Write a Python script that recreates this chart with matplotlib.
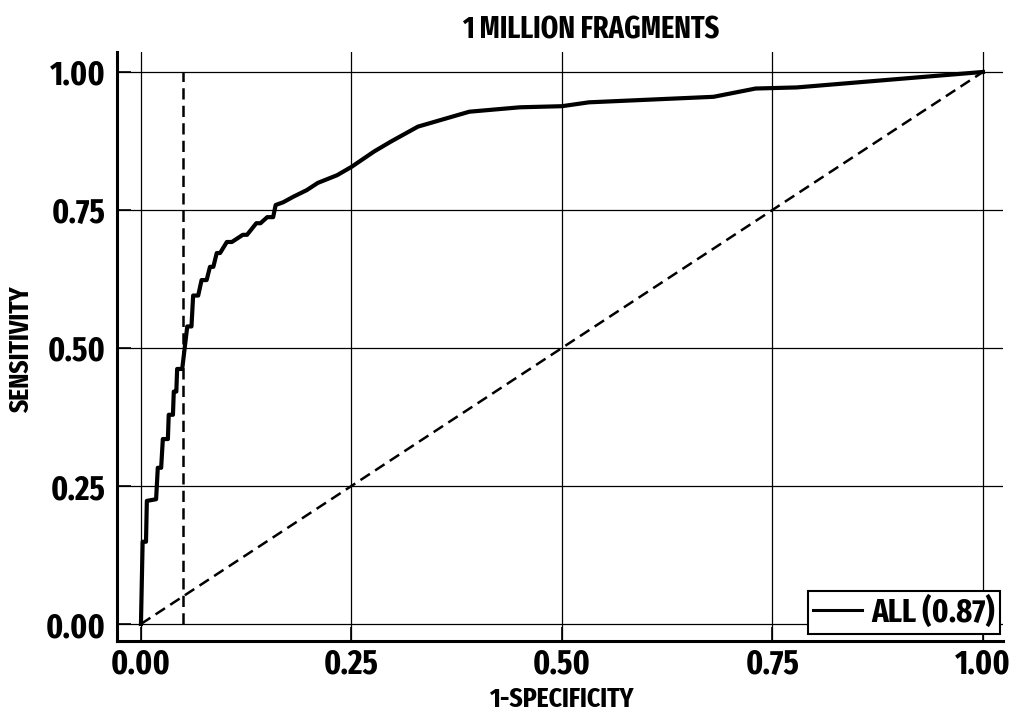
import matplotlib
matplotlib.use("Agg")
import matplotlib.pyplot as plt
from matplotlib import font_manager

# ROC curve points (false positive rate, true positive rate)
fpr = [0.000, 0.002, 0.006, 0.007, 0.018, 0.020, 0.024, 0.026, 0.032, 0.033,
       0.038, 0.039, 0.042, 0.043, 0.049, 0.055, 0.060, 0.062, 0.068, 0.072,
       0.078, 0.082, 0.086, 0.090, 0.094, 0.102, 0.108, 0.121, 0.126, 0.137,
       0.142, 0.150, 0.157, 0.160, 0.169, 0.181, 0.197, 0.210, 0.233, 0.250,
       0.277, 0.297, 0.329, 0.390, 0.450, 0.500, 0.532, 0.680, 0.730, 0.779,
       1.000]
tpr = [0.000, 0.149, 0.149, 0.223, 0.226, 0.283, 0.283, 0.335, 0.335, 0.379,
       0.379, 0.421, 0.421, 0.462, 0.462, 0.539, 0.539, 0.595, 0.595, 0.623,
       0.623, 0.647, 0.647, 0.672, 0.672, 0.692, 0.692, 0.705, 0.705, 0.726,
       0.726, 0.737, 0.737, 0.759, 0.764, 0.774, 0.786, 0.799, 0.813, 0.828,
       0.856, 0.874, 0.901, 0.928, 0.936, 0.938, 0.945, 0.955, 0.970, 0.972,
       1.000]
auc_label = "ALL (0.87)"
cutoff_fpr = 0.05
ticks = [0.00, 0.25, 0.50, 0.75, 1.00]
tick_labels = ["0.00", "0.25", "0.50", "0.75", "1.00"]


def pick_condensed_bold():
    """Return the file of a bold narrow/condensed sans face, if one is installed."""
    best = None
    best_score = -1
    for f in font_manager.fontManager.ttflist:
        if not f.fname.lower().endswith((".ttf", ".otf")):
            continue
        name = f.name.lower()
        path = f.fname.lower()
        stretch = str(f.stretch).lower()
        narrow = ("condensed" in name or "narrow" in name or "condensed" in path
                  or "narrow" in path or "condensed" in stretch)
        if not narrow:
            continue
        if "italic" in path or "oblique" in path or f.style != "normal":
            continue
        if "semicondensed" in path or "semi-condensed" in stretch or "semicondensed" in stretch:
            score = 1
        elif "extracondensed" in path or "extra-condensed" in stretch:
            score = 3
        else:
            score = 2
        w = f.weight if isinstance(f.weight, int) else 700 if "bold" in str(f.weight) else 400
        if "bold" in path and "semibold" not in path and "extrabold" not in path:
            score += 10
        elif w >= 700:
            score += 6
        if "mono" in path or "cjk" in path:
            score -= 20
        if score > best_score:
            best_score = score
            best = f.fname
    return best


condensed = pick_condensed_bold()
if condensed:
    font = dict(fname=condensed)
    size_scale = 1.0
else:
    font = dict(family="DejaVu Sans", weight="bold")
    size_scale = 0.75


def fp(size):
    return font_manager.FontProperties(size=size * size_scale, **font)


fig = plt.figure(figsize=(10.25, 7.19), dpi=100)
ax = fig.add_axes([0.1141, 0.1085, 0.8644, 0.8192])

ax.set_xlim(-0.0285, 1.0238)
ax.set_ylim(-0.0308, 1.0362)

ax.set_xticks(ticks)
ax.set_xticklabels(tick_labels, fontproperties=fp(24.5))
ax.set_yticks(ticks)
ax.set_yticklabels(tick_labels, fontproperties=fp(24.5))
ax.grid(True, color="black", linewidth=0.9)
ax.set_axisbelow(True)

for side in ("top", "right"):
    ax.spines[side].set_visible(False)
for side in ("left", "bottom"):
    ax.spines[side].set_linewidth(2.2)

ax.tick_params(axis="both", direction="in", length=10, width=1.2)
ax.tick_params(axis="y", pad=8)
ax.tick_params(axis="x", pad=5)

# Chance diagonal and cutoff marker
dash = (0, (4.5, 2.5))
ax.plot([0, 1], [0, 1], color="black", linestyle=dash, linewidth=1.8)
ax.plot([cutoff_fpr, cutoff_fpr], [0, 1], color="black",
        linestyle=dash, linewidth=1.8)

ax.plot(fpr, tpr, color="black", linewidth=3.0, label=auc_label,
        solid_joinstyle="round")

leg = ax.legend(loc="lower right", bbox_to_anchor=(0.997, 0.012),
                borderaxespad=0, fancybox=False, framealpha=1,
                edgecolor="black", prop=fp(24), handlelength=1.45,
                handletextpad=0.3, borderpad=0.15)
leg.get_frame().set_linewidth(1.5)
for line in leg.get_lines():
    line.set_linewidth(2.2)

fig.text(0.576, 0.958, "1 MILLION FRAGMENTS", ha="center", va="center",
         fontproperties=fp(22))
fig.text(0.548, 0.028, "1-SPECIFICITY", ha="center", va="center",
         fontproperties=fp(20))
fig.text(0.021, 0.513, "SENSITIVITY", ha="center", va="center",
         rotation=90, fontproperties=fp(20))

fig.savefig("out.png", dpi=100)
